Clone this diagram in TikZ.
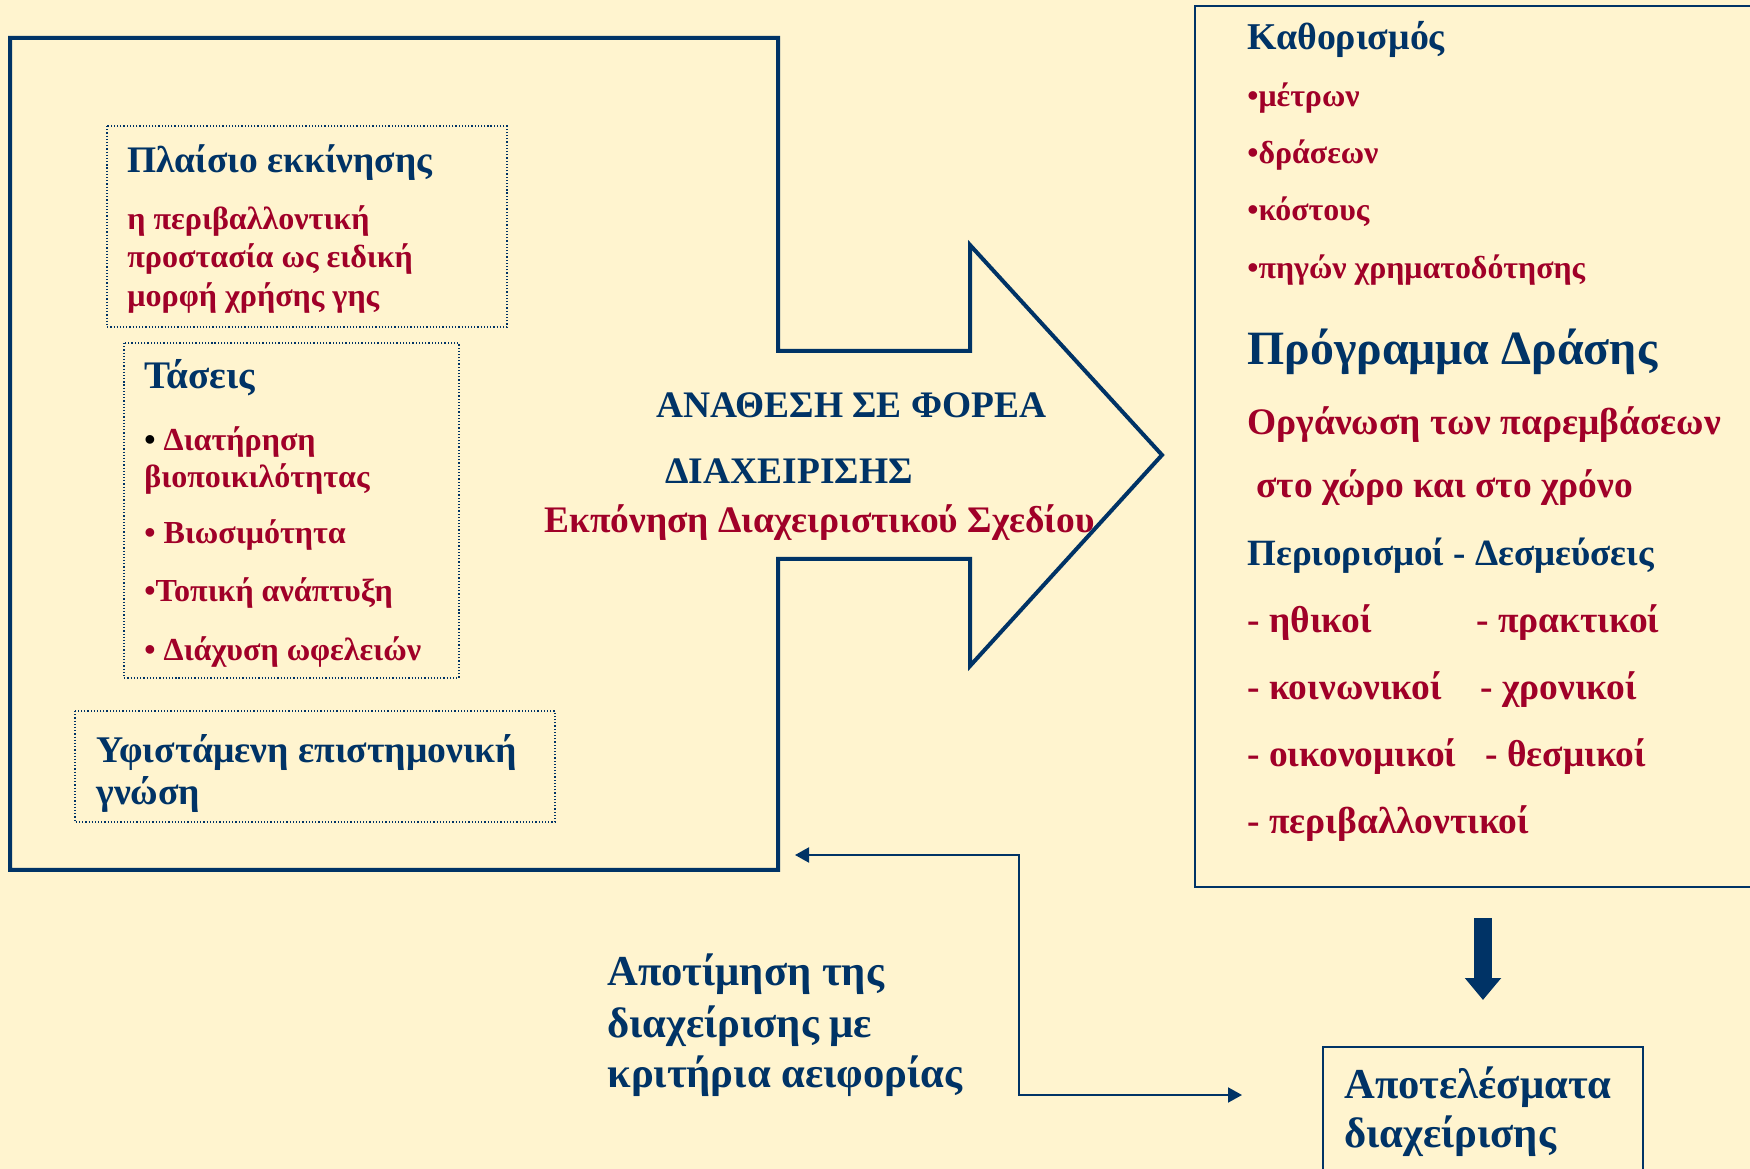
\documentclass[tikz,border=0pt]{standalone}
\usepackage{fontspec}
\setmainfont{Liberation Serif}
\usetikzlibrary{arrows.meta}
\definecolor{navy}{RGB}{0,51,102}
\definecolor{wine}{RGB}{160,0,40}
\definecolor{cream}{RGB}{255,244,207}
\newcommand{\fsz}[1]{\fontsize{#1}{#1}\selectfont}
\tikzset{
  txt/.style={anchor=base west,inner sep=0pt,font=\bfseries\fsz{#1}},
  navytxt/.style={txt=#1,text=navy},
  redtxt/.style={txt=#1,text=wine},
  dotbox/.style={draw=navy,densely dotted,line width=0.6bp},
}
\begin{document}
\begin{tikzpicture}[x=0.5bp,y=-0.5bp,>={Triangle[length=7bp,width=7.5bp]}]
\fill[cream](0,0) rectangle (1750,1169);
\useasboundingbox(0,0) rectangle (1750,1169);
% frame with the big arrow
\draw[navy,line width=2bp](10,38)--(778,38)--(778,351)--(970,351)--(970,245)--(1162,455)
  --(970,666)--(970,559)--(778,559)--(778,870)--(10,870)--cycle;
\draw[dotbox](107,126) rectangle (507,327);
\draw[dotbox](124,343) rectangle (459,678);
\draw[dotbox](75,711) rectangle (555,822);
\node[navytxt=18.8](start) at (127,173){Πλαίσιο εκκίνησης};
\node[redtxt=16.1](start1) at (127,230){η περιβαλλοντική};
\node[redtxt=16.1](start2) at (127,268){προστασία ως ειδική};
\node[redtxt=16.1](start3) at (127,307){μορφή χρήσης γης};
\node[navytxt=19.6](trend) at (144,389){Τάσεις};
\node[redtxt=16.1](trend1) at (144,451){\textcolor{black}{•} Διατήρηση};
\node[redtxt=16.1](trend1b) at (144,488){βιοποικιλότητας};
\node[redtxt=16.1](trend2) at (144,544){• Βιωσιμότητα};
\node[redtxt=16.1](trend3) at (144,602){•Τοπική ανάπτυξη};
\node[redtxt=16.1](trend4) at (144,661){• Διάχυση ωφελειών};
\node[navytxt=18.9](know) at (96,763){Υφιστάμενη επιστημονική};
\node[navytxt=18.9](know2) at (96,805){γνώση};
% inside the arrow
\node[navytxt=18.8](assign) at (656,418){ΑΝΑΘΕΣΗ ΣΕ ΦΟΡΕΑ};
\node[navytxt=18.8](assign2) at (665,484){ΔΙΑΧΕΙΡΙΣΗΣ};
\node[redtxt=18.8](plan) at (544,533){Εκπόνηση Διαχειριστικού Σχεδίου};
% right box
\draw[navy,line width=1.25bp](1195,6) rectangle (1770,887);
\node[navytxt=19](def) at (1247,50){Καθορισμός};
\node[redtxt=16](def1) at (1247,107){•μέτρων};
\node[redtxt=16](def2) at (1247,164){•δράσεων};
\node[redtxt=16](def3) at (1247,221){•κόστους};
\node[redtxt=16](def4) at (1247,279){•πηγών χρηματοδότησης};
\node[navytxt=24](prog) at (1247,365){Πρόγραμμα Δράσης};
\node[redtxt=18.8](org) at (1247,435){Οργάνωση των παρεμβάσεων};
\node[redtxt=18.8](org2) at (1256,498){στο χώρο και στο χρόνο};
\node[navytxt=18.6](lim) at (1247,566){Περιορισμοί - Δεσμεύσεις};
\node[redtxt=18.8](lim1) at (1247,633){- ηθικοί};
\node[redtxt=18.8](lim2) at (1476,633){- πρακτικοί};
\node[redtxt=18.8](lim3) at (1247,700){- κοινωνικοί};
\node[redtxt=18.8](lim4) at (1480,700){- χρονικοί};
\node[redtxt=18.8](lim5) at (1247,767){- οικονομικοί};
\node[redtxt=18.8](lim6) at (1485,767){- θεσμικοί};
\node[redtxt=18.8](lim7) at (1247,834){- περιβαλλοντικοί};
% results
\draw[navy,line width=1.25bp](1323,1047) rectangle (1643,1190);
\node[navytxt=21.4](res) at (1344,1098){Αποτελέσματα};
\node[navytxt=21.4](res2) at (1344,1147){διαχείρισης};
\coordinate(prog_out) at (1483,918);
\coordinate(res_in) at (1483,1000);
\draw[navy,line width=9bp,-{Triangle[length=11bp,width=17.5bp]}](prog_out)--(res_in);
% evaluation loop
\node[navytxt=21.4](eval) at (607,985){Αποτίμηση της};
\node[navytxt=21.4](eval2) at (607,1037){διαχείρισης με};
\node[navytxt=21.4](eval3) at (607,1087){κριτήρια αειφορίας};
\coordinate(fb_l) at (795,855);
\coordinate(fb_r) at (1242,1095);
\draw[navy,line width=1bp,<->](fb_l)--(1019,855)--(1019,1095)--(fb_r);
\end{tikzpicture}
\end{document}
